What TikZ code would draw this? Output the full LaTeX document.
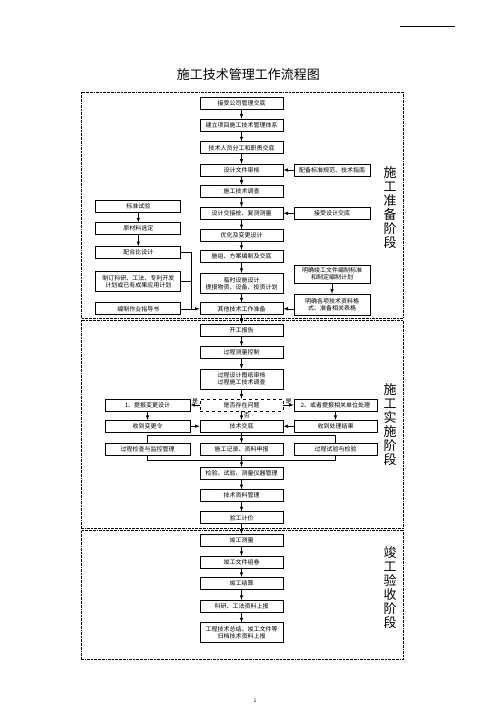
\documentclass[tikz,border=0pt]{standalone}
\usepackage{fontspec}
\setmainfont{Noto Sans CJK SC}
\usetikzlibrary{arrows}
\newcommand{\flowfont}{\fontsize{6}{7}\selectfont}

\begin{document}
\begin{tikzpicture}[x = 1pt, y = -1pt, >=latex]
	\tikzstyle{boxStyle} = [shape = rectangle, draw, line width = 0.7pt, minimum width = 83pt, minimum height = 12pt, inner sep = 1pt, align = center, font = \flowfont]
	\tikzstyle{sideStyle} = [boxStyle, minimum width = 85pt]
	\tikzstyle{askStyle} = [boxStyle, dashed]
	\tikzstyle{stageStyle} = [align = center, font = \fontsize{13}{14}\selectfont]
	\tikzstyle{frameStyle} = [line width = 0.6pt, dash pattern = on 2pt off 0.8pt on 0.6pt off 0.8pt]
	\tikzstyle{flowStyle} = [->, line width = 0.6pt]
	\tikzstyle{lineStyle} = [line width = 0.6pt]
	\useasboundingbox (0,0) rectangle (503,711);
	\draw[lineStyle] (400,26.5) -- (455,26.5);
	\node[font = \fontsize{13}{14}\selectfont] (title) at (248.3,75) {施工技术管理工作流程图};
	\node[font = \fontsize{5}{6}\selectfont] (pagenum) at (255,701) {1};
	\draw[frameStyle] (81,92) rectangle (403,318);
	\draw[frameStyle] (81,320) rectangle (403,528.5);
	\draw[frameStyle] (81,530.7) rectangle (403,659.5);
	\node[stageStyle] (stage1) at (390,207.5) {施\\工\\准\\备\\阶\\段};
	\node[stageStyle] (stage2) at (390,425) {施\\工\\实\\施\\阶\\段};
	\node[stageStyle] (stage3) at (390,587.5) {竣\\工\\验\\收\\阶\\段};
	\node[boxStyle] (b1) at (241.5,103.3) {接受公司管理交底};
	\node[boxStyle] (b2) at (241.5,125) {建立项目施工技术管理体系};
	\node[boxStyle] (b3) at (241.5,147.8) {技术人员分工和职责交底};
	\node[boxStyle] (b4) at (241.5,170) {设计文件审核};
	\node[boxStyle] (b5) at (241.5,191.2) {施工技术调查};
	\node[boxStyle] (b6) at (241.5,213.3) {设计交接桩、复测测量};
	\node[boxStyle] (b7) at (241.5,235.5) {优化及变更设计};
	\node[boxStyle] (b8) at (241.5,256.3) {施组、方案编制及交底};
	\node[boxStyle, minimum height = 20pt] (b9) at (241.5,283.3) {临时设施设计\\提报物资、设备、投资计划};
	\node[boxStyle] (b10) at (241.5,308.8) {其他技术工作准备};
	\node[boxStyle, minimum width = 76pt] (ra) at (332,170) {配备标准规范、技术指南};
	\node[boxStyle, minimum width = 76pt] (rb) at (332,213.3) {接受设计交底};
	\node[boxStyle, minimum width = 76pt, minimum height = 18.3pt] (rc) at (332,274.2) {明确竣工文件编制标准\\和制定编制计划};
	\node[boxStyle, minimum width = 76pt, minimum height = 21pt] (rd) at (332,304.5) {明确各项技术资料格\\式、准备相关表格};
	\node[sideStyle] (la) at (138.3,206.3) {标准试验};
	\node[sideStyle] (lb) at (138.3,228.7) {原材料选定};
	\node[sideStyle] (lc) at (138.3,252.5) {配合比设计};
	\node[sideStyle, minimum height = 20pt] (ld) at (138.3,281.7) {制订科研、工法、专利开发\\计划或已有成果应用计划};
	\node[sideStyle] (le) at (138.3,308.8) {编制作业指导书};
	\coordinate (merge) at (191,308.8);
	\draw[flowStyle] (b1) -- (b2);
	\draw[flowStyle] (b2) -- (b3);
	\draw[flowStyle] (b3) -- (b4);
	\draw[flowStyle] (b4) -- (b5);
	\draw[flowStyle] (b5) -- (b6);
	\draw[flowStyle] (b6) -- (b7);
	\draw[flowStyle] (b7) -- (b8);
	\draw[flowStyle] (b8) -- (b9);
	\draw[flowStyle] (b9) -- (b10);
	\draw[flowStyle] (ra) -- (b4);
	\draw[flowStyle] (rb) -- (b6);
	\draw[flowStyle] (rc) -- (rd);
	\draw[flowStyle] (rd.west |- b10) -- (b10.east);
	\draw[flowStyle] (la) -- (lb);
	\draw[flowStyle] (lb) -- (lc);
	\draw[lineStyle] (lc.east) -| (merge);
	\draw[lineStyle] (ld.east) -- (ld.east -| merge);
	\draw[flowStyle] (le) -- (b10);
	\node[boxStyle] (c1) at (241.5,330) {开工报告};
	\node[boxStyle] (c2) at (241.5,352.2) {过程测量控制};
	\node[boxStyle, minimum height = 20pt] (c3) at (241.5,379) {过程设计图纸审核\\过程施工技术调查};
	\node[askStyle] (c4) at (241.5,405) {是否存在问题};
	\node[sideStyle] (l1) at (147.5,405) {1、提报变更设计};
	\node[boxStyle] (r1) at (335.5,405) {2、或者提报相关单位处理};
	\node[sideStyle] (m1) at (147.5,426.2) {收到变更令};
	\node[boxStyle] (c5) at (241.5,426.2) {技术交底};
	\node[boxStyle] (m3) at (335.5,426.2) {收到处理结果};
	\node[sideStyle] (p1) at (147.5,449.2) {过程检查与监控管理};
	\node[boxStyle] (p2) at (241.5,449.2) {施工记录、资料申报};
	\node[boxStyle] (p3) at (335.5,449.2) {过程试验与检验};
	\node[boxStyle] (d1) at (241.5,473.3) {检验、试验、测量仪器管理};
	\node[boxStyle] (d2) at (241.5,495.5) {技术资料管理};
	\node[boxStyle] (d3) at (241.5,517.8) {验工计价};
	\draw[flowStyle] (b10) -- (c1);
	\draw[flowStyle] (c1) -- (c2);
	\draw[flowStyle] (c2) -- (c3);
	\draw[flowStyle] (c3) -- (c4);
	\draw[flowStyle] (c4) -- (l1) node[midway, above, inner sep = 1pt, font = \flowfont] {是};
	\draw[flowStyle] (c4) -- (r1) node[midway, above, inner sep = 1pt, font = \flowfont] {是};
	\draw[flowStyle] (c4) -- (c5) node[midway, right, inner sep = 2pt, font = \flowfont] {否};
	\draw[flowStyle] (l1) -- (m1);
	\draw[flowStyle] (r1) -- (m3);
	\draw[flowStyle] (m1) -- (c5);
	\draw[flowStyle] (m3) -- (c5);
	\draw[flowStyle] (c5) -- (p2);
	\draw[lineStyle] (p1.north) -- ++(0,-7.6) -| (p3.north);
	\draw[lineStyle] (p1.south) -- ++(0,4.8) -| (p3.south);
	\draw[flowStyle] (p2) -- (d1);
	\draw[flowStyle] (d1) -- (d2);
	\draw[flowStyle] (d2) -- (d3);
	\node[boxStyle] (e1) at (241.5,540) {竣工测量};
	\node[boxStyle] (e2) at (241.5,562.2) {竣工文件组卷};
	\node[boxStyle] (e3) at (241.5,583.3) {竣工结算};
	\node[boxStyle] (e4) at (241.5,606.3) {科研、工法资料上报};
	\node[boxStyle, minimum height = 20pt] (e5) at (241.5,632.8) {工程技术总结、竣工文件等\\归档技术资料上报};
	\draw[flowStyle] (d3) -- (e1);
	\draw[flowStyle] (e1) -- (e2);
	\draw[flowStyle] (e2) -- (e3);
	\draw[flowStyle] (e3) -- (e4);
	\draw[flowStyle] (e4) -- (e5);
\end{tikzpicture}
\end{document}
